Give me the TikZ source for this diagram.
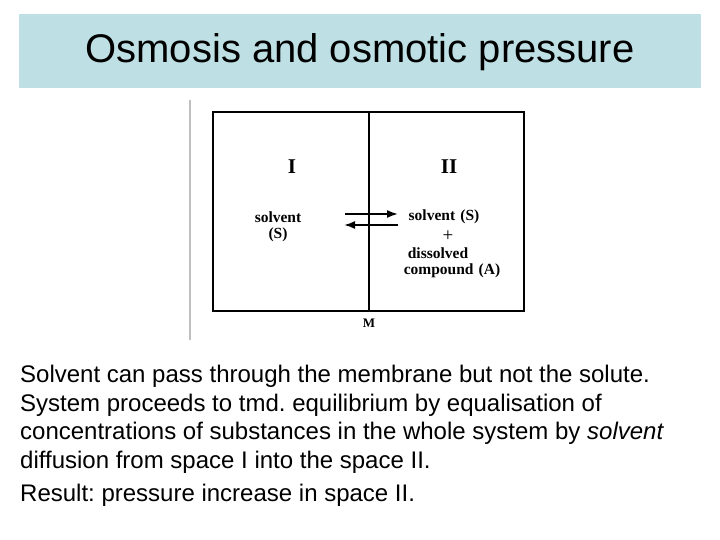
\documentclass[tikz,border=0pt]{standalone}
\usepackage{fontspec}
\setmainfont{Liberation Sans}
\newfontfamily\labfont{Liberation Serif}
\usetikzlibrary{arrows.meta}
\definecolor{titlebar}{RGB}{190,224,228}
\frenchspacing

\begin{document}
\begin{tikzpicture}[line cap=butt,line join=miter,>={Latex[length=11pt,width=8pt]},x=1pt,y=-1pt,
  lab/.style={font=\labfont\bfseries\fontsize{15.5}{16}\selectfont,inner sep=0pt},
  big/.style={font=\labfont\bfseries\fontsize{21}{22}\selectfont,inner sep=0pt},
  body/.style={anchor=base west,inner sep=0pt,font=\fontsize{24}{28}\selectfont}]
\useasboundingbox (0,0) rectangle (720,540);
% title
\fill[titlebar] (19,14) rectangle (701,88);
\node[inner sep=0pt,font=\fontsize{40}{44}\selectfont] (title) at (360,52) {Osmosis and osmotic pressure};
% the vessel
\draw[gray!50,line width=1.2pt] (190,100)--(190,340);
\draw[line width=2.2pt] (213,112) rectangle (524,311);
\draw[line width=2.2pt] (369,112) coordinate (mtop) -- (369,311) coordinate (mbot);
\node[lab,font=\labfont\bfseries\fontsize{13}{14}\selectfont] (M) at (369,323) {M};
\node[big] (one) at (292,167) {I};
\node[big] (two) at (449,167) {II};
\node[lab] (solvI) at (278,217) {solvent};
\node[lab] (SI) at (278,235) {(S)};
\node[lab] (solvII) at (444,217) {solvent\,\,(S)};
\node[lab,font=\labfont\fontsize{19}{19}\selectfont] (plus) at (448,236) {+};
\node[lab] (diss) at (438,253) {dissolved};
\node[lab] (comp) at (452,271) {compound\,\,(A)};
\coordinate (ra) at (345,214);
\coordinate (rb) at (398,214);
\coordinate (la) at (398,225);
\coordinate (lb) at (344,225);
\draw[->,line width=1.8pt] (ra)--(rb);
\draw[->,line width=1.8pt] (la)--(lb);
% text
\node[body] (l1) at (20,382) {Solvent can pass through the membrane but not the solute.};
\node[body] (l2) at (20,411) {System proceeds to tmd. equilibrium by equalisation of};
\node[body] (l3) at (20,439) {concentrations of substances in the whole system by \textit{solvent}};
\node[body] (l4) at (20,468) {diffusion from space I into the space II.};
\node[body] (l5) at (20,501) {Result: pressure increase in space II.};
\end{tikzpicture}
\end{document}
